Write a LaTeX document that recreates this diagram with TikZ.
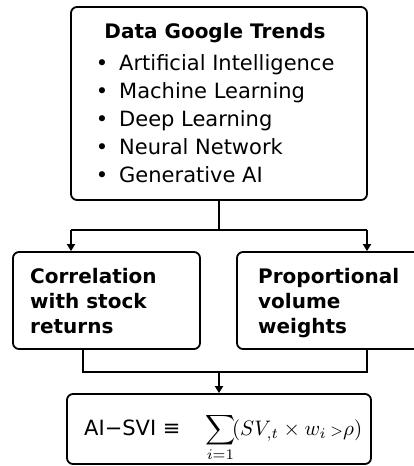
\documentclass[tikz,border=0pt]{standalone}
\usepackage{fontspec}
\usepackage{amsmath}
\usepackage{graphicx}
\setmainfont{DejaVu Sans}
\usetikzlibrary{arrows.meta}
\tikzset{
  boxstyle/.style={draw, line width=1.8pt, rounded corners=6pt, inner sep=0pt},
  conn/.style={line width=1.8pt},
  arr/.style={line width=1.8pt, -{Triangle[length=7pt,width=8pt]}},
  titletext/.style={font=\fontsize{20}{24}\selectfont\bfseries, inner sep=0pt},
  itemtext/.style={font=\fontsize{21}{25}\selectfont, inner sep=0pt},
  boldtext/.style={font=\fontsize{20}{24}\selectfont\bfseries, inner sep=0pt},
  formtext/.style={font=\fontsize{21}{25}\selectfont, inner sep=0pt}
}
\begin{document}
\begin{tikzpicture}[x=1pt,y=-1pt]
\useasboundingbox (0,0) rectangle (414,466);
% boxes
\node[boxstyle, minimum width=296pt, minimum height=193pt] (top) at (219,103.5) {};
\node[boxstyle, minimum width=187pt, minimum height=97pt] (left) at (106.5,300.5) {};
\node[boxstyle, minimum width=186pt, minimum height=97pt] (right) at (330,300.5) {};
\node[boxstyle, minimum width=304pt, minimum height=70pt] (bottom) at (219,429) {};
% top text
\node[titletext, anchor=base] (title) at (215,38) {Data Google Trends};
\foreach \y/\t/\n in {70/Artificial Intelligence/a, 98/Machine Learning/b, 126/Deep Learning/c, 154/Neural Network/d, 182/Generative AI/e}{
  \node[itemtext, anchor=base] (bul\n) at (102,\y) {•};
  \node[itemtext, anchor=base west] (item\n) at (119,\y) {\t};
}
% left text
\node[boldtext, anchor=base west] (l1) at (30,283) {Correlation};
\node[boldtext, anchor=base west] (l2) at (30,308) {with stock};
\node[boldtext, anchor=base west] (l3) at (30,333) {returns};
% right text
\node[boldtext, anchor=base west] (r1) at (258,283) {Proportional};
\node[boldtext, anchor=base west] (r2) at (258,308) {volume};
\node[boldtext, anchor=base west] (r3) at (258,333) {weights};
% formula
\node[formtext, anchor=base west] (lhs) at (84,435) {AI−SVI ≡};
\node[inner sep=0pt, anchor=base west] (rhs) at (205,435) {\scalebox{2.1}{$\displaystyle\sum_{i=1}\!(SV_{,t}\times w_i\,{\scriptstyle>}\rho)$}};
% connectors
\coordinate (j1) at (219,230);
\coordinate (jl) at (71,230);
\coordinate (jr) at (367,230);
\coordinate (j2) at (219,372);
\coordinate (kl) at (83,372);
\coordinate (kr) at (367,372);
\draw[conn] (top.south) -- (j1);
\draw[conn] (jl) -- (jr);
\draw[arr] (jl) -- (jl |- left.north);
\draw[arr] (jr) -- (jr |- right.north);
\draw[conn] (kl |- left.south) -- (kl) -- (kr) -- (kr |- right.south);
\draw[arr] (j2) -- (bottom.north);
\end{tikzpicture}
\end{document}
